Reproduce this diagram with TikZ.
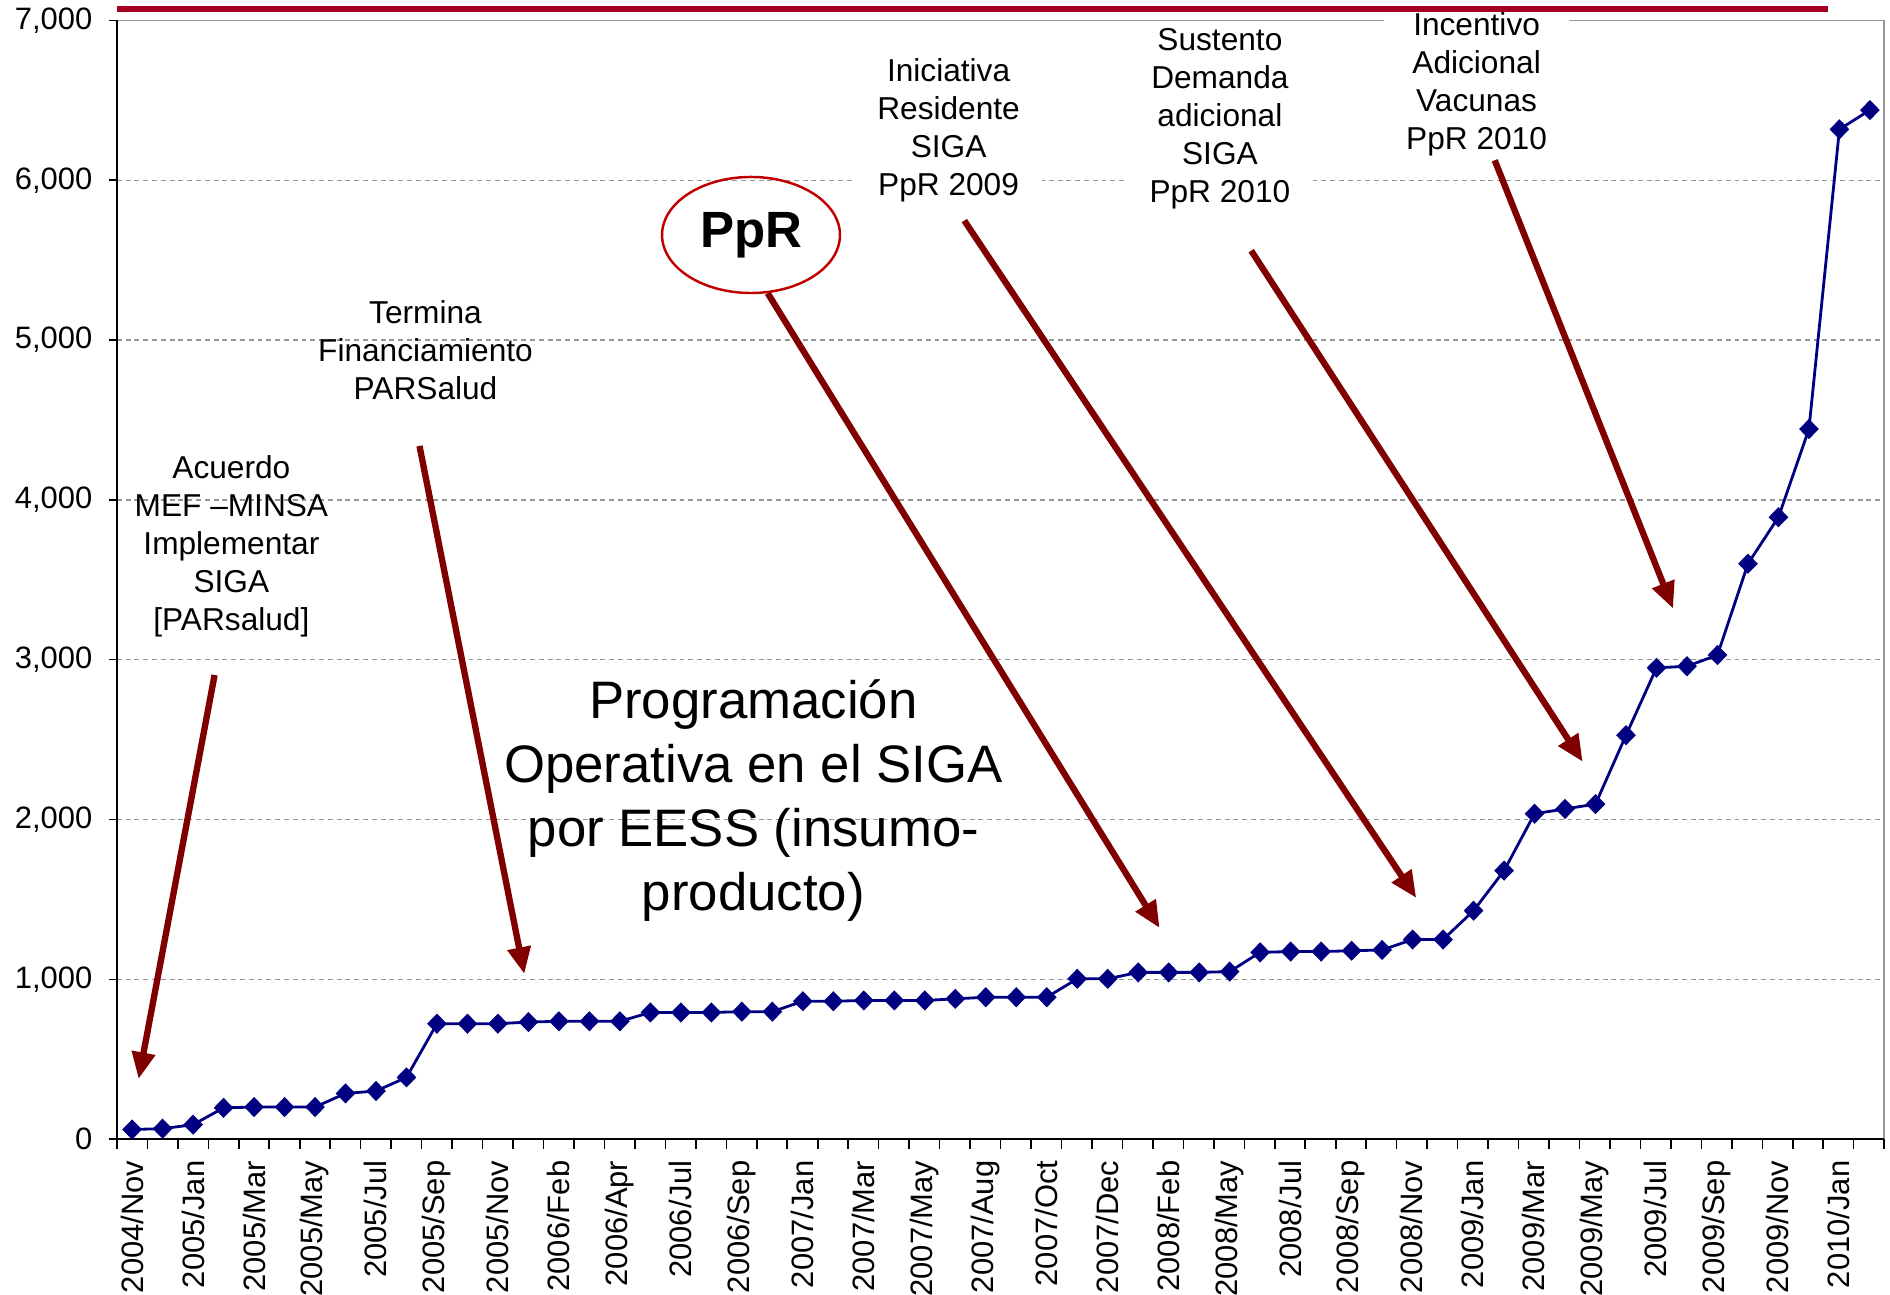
\documentclass[tikz,border=0pt]{standalone}
\usepackage{fontspec}
\setmainfont{Liberation Sans}
\usepackage{tikz}
\usetikzlibrary{arrows.meta, shapes.geometric, plotmarks}

\definecolor{navy}{HTML}{000080}
\definecolor{arrowred}{HTML}{800000}
\definecolor{barred}{HTML}{A50021}
\definecolor{ovalred}{HTML}{C00000}
\definecolor{gridgray}{HTML}{969696}

\tikzset{
    axislabel/.style = {font = \fontsize{8.8}{10}\selectfont, inner sep = 0pt},
    note/.style = {align = center, font = \fontsize{9}{10.8}\selectfont, inner sep = 1pt},
    whitenote/.style = {note, fill = white, inner xsep = 6.3pt, inner ysep = 2pt},
    pointer/.style = {arrowred, line width = 1.8pt, -{Triangle[length = 7.6pt, width = 6.4pt]}},
    gridline/.style = {gridgray, line width = 0.4pt, dash pattern = on 1.4pt off 1.1pt},
}

\begin{document}
\begin{tikzpicture}[x = 0.01cm, y = -0.01cm]
    \useasboundingbox (0, 0) rectangle (1890, 1295);

    % grid and frame
    \foreach \v in {1, ..., 6}
        \draw[gridline] (116.9, 1139.1 - \v*159.8) -- (1884, 1139.1 - \v*159.8);
    \draw[gridgray, line width = 0.5pt]
        (116.9, 20.5) -- (1884, 20.5) -- (1884, 1139.1)
    ;
    \draw[line width = 0.45pt]
        (116.9, 20.5) -- (116.9, 1139.1) -- (1884, 1139.1)
    ;

    % axes
    \foreach \v in {0, ..., 7}{
        \draw[line width = 0.45pt] (116.9, 1139.1 - \v*159.8) -- ++(-8, 0);
        \node[axislabel, anchor = east] (ylab\v) at (93, 1139.1 - \v*159.8) {\ifnum\v=0 0\else\v,000\fi};
    }
    \foreach \k in {0, ..., 58}
        \draw[line width = 0.45pt] (116.9 + \k*30.47, 1139.1) -- ++(0, 9.5);
    \foreach \lab [count = \k from 0] in {2004/Nov, 2005/Jan, 2005/Mar, 2005/May, 2005/Jul, 2005/Sep, 2005/Nov, 2006/Feb, 2006/Apr, 2006/Jul, 2006/Sep, 2007/Jan, 2007/Mar, 2007/May, 2007/Aug, 2007/Oct, 2007/Dec, 2008/Feb, 2008/May, 2008/Jul, 2008/Sep, 2008/Nov, 2009/Jan, 2009/Mar, 2009/May, 2009/Jul, 2009/Sep, 2009/Nov, 2010/Jan}
        \node[axislabel, rotate = 90, anchor = east] (xlab\k) at (132.1 + \k*60.94, 1160) {\lab};

    % series
    \begin{scope}[shift = {(132.1, 1139.1)}, x = 0.3047cm, y = 0.001598cm]
        \draw[navy, line width = 0.8pt]
            plot[mark = diamond*, mark size = 2.3pt, mark options = {xscale = 1.3, fill = navy}]
            coordinates {(0, 60) (1, 65) (2, 90) (3, 195) (4, 200) (5, 200) (6, 200) (7, 285) (8, 300) (9, 385)
            (10, 720) (11, 720) (12, 720) (13, 730) (14, 735) (15, 735) (16, 735) (17, 790) (18, 790) (19, 790)
            (20, 795) (21, 795) (22, 860) (23, 860) (24, 865) (25, 865) (26, 865) (27, 875) (28, 885) (29, 885)
            (30, 885) (31, 1000) (32, 1000) (33, 1040) (34, 1040) (35, 1040) (36, 1045) (37, 1165) (38, 1170) (39, 1170)
            (40, 1175) (41, 1180) (42, 1245) (43, 1245) (44, 1425) (45, 1675) (46, 2030) (47, 2060) (48, 2090) (49, 2520)
            (50, 2940) (51, 2950) (52, 3020) (53, 3590) (54, 3880) (55, 4430) (56, 6300) (57, 6420)};
    \end{scope}

    % notes
    \node[note] (acuerdo) at (231.4, 546.5) {Acuerdo\\MEF –MINSA\\Implementar\\SIGA\\{[PARsalud]}};
    \node[note] (termina) at (425.5, 350) {Termina\\Financiamiento\\PARSalud};
    \node[draw = ovalred, line width = 0.7pt, ellipse, minimum width = 50.6pt, minimum height = 33pt, inner sep = 0pt,
        font = \fontsize{14.5}{16}\selectfont\bfseries] (ppr) at (751, 235) {PpR};
    \node[whitenote] (iniciativa) at (948.6, 130) {Iniciativa\\Residente\\SIGA\\PpR 2009};
    \node[whitenote] (sustento) at (1219.9, 118.5) {Sustento\\Demanda\\adicional\\SIGA\\PpR 2010};
    \node[whitenote] (incentivo) at (1476.6, 84) {Incentivo\\Adicional\\Vacunas\\PpR 2010};
    \node[note, font = \fontsize{15}{18.2}\selectfont] (programacion) at (753.4, 801)
        {Programación\\Operativa en el SIGA\\por EESS (insumo-\\producto)};

    % arrows
    \coordinate (acuerdo tail) at (214.6, 675);
    \coordinate (acuerdo tip) at (138.6, 1079);
    \coordinate (termina tail) at (419.5, 446);
    \coordinate (termina tip) at (524.3, 974);
    \coordinate (ppr tip) at (1159.6, 928);
    \coordinate (iniciativa tail) at (964.3, 220.6);
    \coordinate (iniciativa tip) at (1416.3, 898);
    \coordinate (sustento tail) at (1251.2, 250.7);
    \coordinate (sustento tip) at (1582.7, 761.8);
    \coordinate (incentivo tail) at (1494.7, 160.3);
    \coordinate (incentivo tip) at (1673.1, 608.7);
    \draw[pointer] (acuerdo tail) -- (acuerdo tip);
    \draw[pointer] (termina tail) -- (termina tip);
    \draw[pointer] (ppr.-74) -- (ppr tip);
    \draw[pointer] (iniciativa tail) -- (iniciativa tip);
    \draw[pointer] (sustento tail) -- (sustento tip);
    \draw[pointer] (incentivo tail) -- (incentivo tip);

    \draw[barred, line width = 1.6pt] (116.9, 8.8) -- (1828, 8.8);
\end{tikzpicture}
\end{document}
